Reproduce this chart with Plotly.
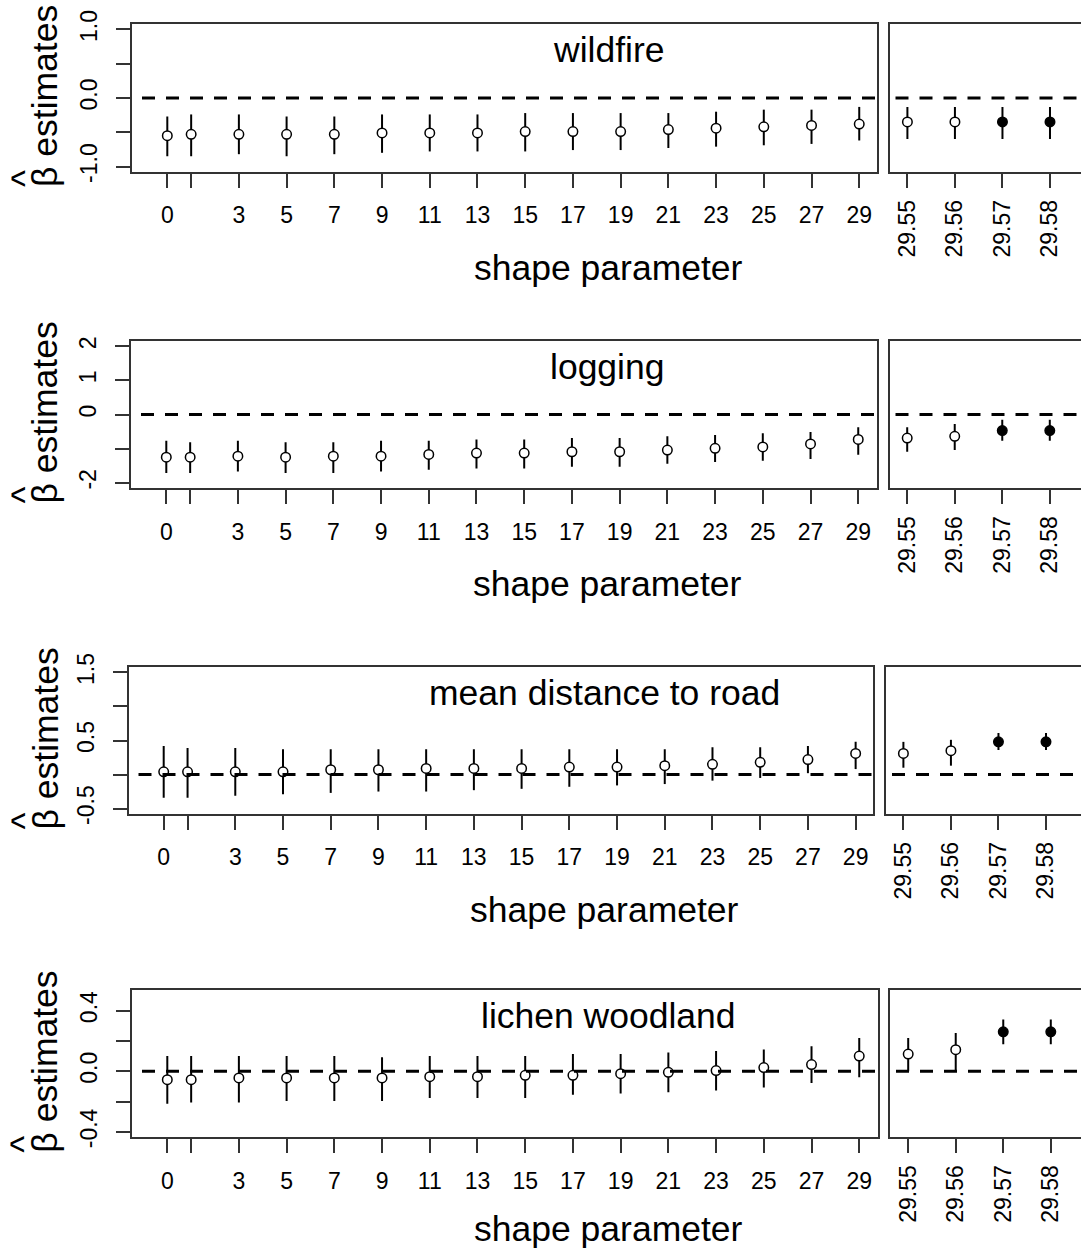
import plotly.graph_objects as go

# shape-parameter values on the two x scales
shape_main = [0, 1, 3, 5, 7, 9, 11, 13, 15, 17, 19, 21, 23, 25, 27, 29]
main_ticktext = ["0", "", "3", "5", "7", "9", "11", "13", "15", "17", "19",
                 "21", "23", "25", "27", "29"]
shape_fine = [29.55, 29.56, 29.57, 29.58]
fine_ticktext = ["29.55", "29.56", "29.57", "29.58"]
fine_solid = [False, False, True, True]

# wildfire
wildfire_est = [-0.55, -0.53, -0.53, -0.53, -0.53, -0.51, -0.51, -0.51,
                -0.49, -0.49, -0.49, -0.46, -0.44, -0.42, -0.40, -0.38]
wildfire_lo = [-0.85, -0.85, -0.82, -0.85, -0.82, -0.80, -0.78, -0.78,
               -0.78, -0.76, -0.76, -0.73, -0.71, -0.69, -0.67, -0.62]
wildfire_hi = [-0.27, -0.24, -0.24, -0.27, -0.27, -0.24, -0.24, -0.24,
               -0.22, -0.22, -0.22, -0.22, -0.20, -0.17, -0.17, -0.13]
wildfire_fine_est = [-0.35, -0.35, -0.35, -0.35]
wildfire_fine_lo = [-0.60, -0.60, -0.60, -0.60]
wildfire_fine_hi = [-0.13, -0.13, -0.13, -0.13]

# logging
logging_est = [-1.25, -1.25, -1.22, -1.25, -1.22, -1.22, -1.17, -1.13,
               -1.13, -1.09, -1.09, -1.04, -0.99, -0.95, -0.86, -0.73]
logging_lo = [-1.71, -1.71, -1.67, -1.71, -1.71, -1.67, -1.62, -1.58,
              -1.58, -1.53, -1.53, -1.44, -1.39, -1.35, -1.30, -1.18]
logging_hi = [-0.77, -0.81, -0.77, -0.81, -0.81, -0.77, -0.77, -0.73,
              -0.73, -0.69, -0.69, -0.64, -0.60, -0.55, -0.51, -0.37]
logging_fine_est = [-0.69, -0.64, -0.47, -0.47]
logging_fine_lo = [-1.09, -1.04, -0.77, -0.77]
logging_fine_hi = [-0.37, -0.28, -0.15, -0.15]

# mean distance to road
road_est = [0.04, 0.04, 0.04, 0.04, 0.07, 0.07, 0.09, 0.09,
            0.09, 0.11, 0.11, 0.13, 0.15, 0.18, 0.22, 0.31]
road_lo = [-0.34, -0.34, -0.31, -0.29, -0.27, -0.25, -0.25, -0.23,
           -0.21, -0.18, -0.16, -0.14, -0.09, -0.05, 0.02, 0.08]
road_hi = [0.42, 0.39, 0.39, 0.37, 0.37, 0.37, 0.37, 0.37,
           0.37, 0.37, 0.37, 0.37, 0.40, 0.40, 0.42, 0.48]
road_fine_est = [0.31, 0.35, 0.48, 0.48]
road_fine_lo = [0.10, 0.13, 0.36, 0.36]
road_fine_hi = [0.48, 0.51, 0.61, 0.61]

# lichen woodland
lichen_est = [-0.056, -0.056, -0.044, -0.044, -0.044, -0.044, -0.036, -0.036,
              -0.027, -0.027, -0.016, -0.007, 0.004, 0.024, 0.044, 0.10]
lichen_lo = [-0.215, -0.207, -0.207, -0.196, -0.196, -0.196, -0.176, -0.176,
             -0.176, -0.156, -0.147, -0.138, -0.127, -0.107, -0.078, -0.04]
lichen_hi = [0.10, 0.10, 0.10, 0.10, 0.10, 0.093, 0.10, 0.10,
             0.10, 0.113, 0.113, 0.124, 0.133, 0.144, 0.164, 0.22]
lichen_fine_est = [0.113, 0.142, 0.26, 0.26]
lichen_fine_lo = [0.0, 0.0, 0.178, 0.178]
lichen_fine_hi = [0.22, 0.253, 0.342, 0.342]

panel_titles = ["wildfire", "logging", "mean distance to road", "lichen woodland"]
y_tickvals = [[-1, -0.5, 0, 0.5, 1],
              [-2, -1, 0, 1, 2],
              [-0.5, 0, 0.5, 1, 1.5],
              [-0.4, -0.2, 0, 0.2, 0.4]]
y_ticktext = [["-1.0", "", "0.0", "", "1.0"],
              ["-2", "", "0", "1", "2"],
              ["-0.5", "", "0.5", "", "1.5"],
              ["-0.4", "", "0.0", "", "0.4"]]
y_limits = [(-1, 1), (-2, 2), (-0.5, 1.5), (-0.4, 0.5)]

series = [
    (wildfire_est, wildfire_lo, wildfire_hi,
     wildfire_fine_est, wildfire_fine_lo, wildfire_fine_hi),
    (logging_est, logging_lo, logging_hi,
     logging_fine_est, logging_fine_lo, logging_fine_hi),
    (road_est, road_lo, road_hi,
     road_fine_est, road_fine_lo, road_fine_hi),
    (lichen_est, lichen_lo, lichen_hi,
     lichen_fine_est, lichen_fine_lo, lichen_fine_hi),
]

# ---- page geometry (pixels) ----
W, H = 1081, 1251
# (main left, main right, fine left, box top, box bottom)
boxes = [
    (132.0, 877.0, 889.5, 24.0, 172.0),
    (131.0, 876.5, 889.5, 340.7, 488.3),
    (128.5, 873.0, 886.0, 667.0, 814.0),
    (132.0, 877.5, 890.0, 990.0, 1137.3),
]
main_zero_px = [167.3, 166.3, 163.7, 167.3]   # pixel of shape = 0
fine_first_px = [907.4, 907.2, 903.4, 908.2]  # pixel of shape = 29.55
px_per_unit = 23.86
px_per_hundredth = 47.53
xtitle_gap = [96, 96, 96, 92]                 # box bottom -> x title centre

FONT = "Liberation Sans, Arial, Helvetica, sans-serif"
INK = "#000000"
FRAME = "#333333"
TICK_SIZE = 23
LABEL_SIZE = 35.5


def px_x(p):
    return p / W


def px_y(p):
    return 1 - p / H


def expand(lo, hi):
    pad = (hi - lo) * 0.04
    return [lo - pad, hi + pad]


fig = go.Figure()
layout = dict(
    width=W, height=H,
    margin=dict(l=0, r=0, t=0, b=0, pad=0, autoexpand=False),
    paper_bgcolor="white", plot_bgcolor="white",
    showlegend=False,
    font=dict(family=FONT, color=INK),
)
annotations = []


def add_points(x, est, lo, hi, solid, xa, ya):
    fig.add_trace(go.Scatter(
        x=x, y=est, mode="markers", xaxis=xa, yaxis=ya,
        error_y=dict(type="data", symmetric=False,
                     array=[h - e for e, h in zip(est, hi)],
                     arrayminus=[e - l for e, l in zip(est, lo)],
                     thickness=2, width=0, color=INK),
        marker=dict(size=9.5, symbol="circle",
                    color=[INK if s else "white" for s in solid],
                    line=dict(color=INK, width=1.5)),
        cliponaxis=False,
    ))


for i, (est, lo, hi, fest, flo, fhi) in enumerate(series):
    ml, mr, fl, top, bot = boxes[i]
    ia, ib = 2 * i + 1, 2 * i + 2
    xa, ya = f"x{ia}", f"y{ia}"
    xb, yb = f"x{ib}", f"y{ib}"

    # x ranges from the pixel geometry
    x0 = main_zero_px[i]
    main_range = [(ml - x0) / px_per_unit, (mr - x0) / px_per_unit]
    f0 = fine_first_px[i]
    fine_scale = px_per_hundredth * 100
    fine_range = [29.55 + (fl - f0) / fine_scale,
                  29.55 + (W - f0) / fine_scale]
    yr = expand(*y_limits[i])

    add_points(shape_main, est, lo, hi, [False] * len(est), xa, ya)
    add_points(shape_fine, fest, flo, fhi, fine_solid, xb, yb)

    # dashed reference line at zero, drawn over the estimates
    main_line_x = [main_range[0] + 10 / px_per_unit, main_range[1]]
    fine_line_x = [fine_range[0] + 6 / fine_scale, fine_range[1]]
    for xs, ax_x, ax_y in ((main_line_x, xa, ya), (fine_line_x, xb, yb)):
        fig.add_trace(go.Scatter(
            x=xs, y=[0, 0], mode="lines", xaxis=ax_x, yaxis=ax_y,
            line=dict(color=INK, width=3, dash="13px,11px"),
            hoverinfo="skip",
        ))

    ydom = [px_y(bot), px_y(top)]
    tickfont = dict(family=FONT, size=TICK_SIZE, color=INK)
    common_x = dict(showgrid=False, zeroline=False, showline=True, mirror=True,
                    linecolor=FRAME, linewidth=1.5, ticks="outside",
                    ticklen=14, tickwidth=1.5, tickcolor=FRAME,
                    tickfont=tickfont, fixedrange=True, automargin=False)
    layout[f"xaxis{ia}"] = dict(
        common_x, domain=[px_x(ml), px_x(mr)], range=main_range,
        anchor=ya, tickmode="array", tickvals=shape_main,
        ticktext=main_ticktext, tickangle=0, ticklabelstandoff=8)
    layout[f"xaxis{ib}"] = dict(
        common_x, domain=[px_x(fl), 1.0], range=fine_range,
        anchor=yb, tickmode="array", tickvals=shape_fine,
        ticktext=fine_ticktext, tickangle=-90, ticklabelstandoff=3)
    layout[f"yaxis{ia}"] = dict(
        showgrid=False, zeroline=False, showline=True, mirror=True,
        linecolor=FRAME, linewidth=1.5, ticks="outside", ticklen=14,
        tickwidth=1.5, tickcolor=FRAME, tickfont=tickfont,
        domain=ydom, range=yr, anchor=xa, tickmode="array",
        tickvals=y_tickvals[i], ticktext=y_ticktext[i], tickangle=-90,
        ticklabelstandoff=10, fixedrange=True, automargin=False)
    layout[f"yaxis{ib}"] = dict(
        showgrid=False, zeroline=False, showline=True, mirror=False,
        linecolor=FRAME, linewidth=1.5, ticks="", showticklabels=False,
        domain=ydom, range=yr, anchor=xb, fixedrange=True, automargin=False)

    mid = (top + bot) / 2
    cx = 608 + (ml - 132)
    big = dict(family=FONT, size=LABEL_SIZE, color=INK)
    # panel title inside the main box
    annotations.append(dict(
        text=panel_titles[i], x=px_x(cx), y=px_y(top + 26),
        xref="paper", yref="paper", xanchor="center", yanchor="middle",
        showarrow=False, font=big))
    # x axis title
    annotations.append(dict(
        text="shape parameter", x=px_x(cx), y=px_y(bot + xtitle_gap[i]),
        xref="paper", yref="paper", xanchor="center", yanchor="middle",
        showarrow=False, font=big))
    # y axis title: beta with a hat
    annotations.append(dict(
        text="β estimates", x=px_x(45), y=px_y(mid - 2),
        xref="paper", yref="paper", xanchor="center", yanchor="middle",
        textangle=-90, showarrow=False, font=big))
    annotations.append(dict(
        text="^", x=px_x(24), y=px_y(mid + 81),
        xref="paper", yref="paper", xanchor="center", yanchor="middle",
        textangle=-90, showarrow=False,
        font=dict(family=FONT, size=36, color=INK)))

layout["annotations"] = annotations
fig.update_layout(**layout)
fig.write_html("out.html")
